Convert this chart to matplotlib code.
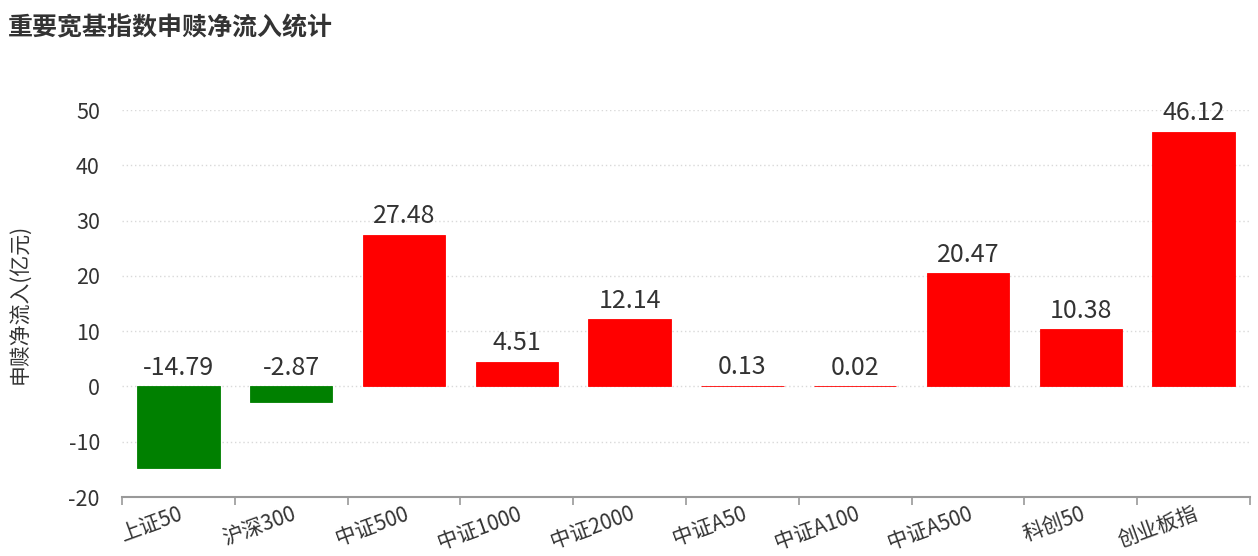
import matplotlib.pyplot as plt

plt.rcParams['font.family'] = ['Noto Sans CJK SC', 'DejaVu Sans']
plt.rcParams['axes.unicode_minus'] = False

categories = ['上证50', '沪深300', '中证500', '中证1000', '中证2000',
              '中证A50', '中证A100', '中证A500', '科创50', '创业板指']
values = [-14.79, -2.87, 27.48, 4.51, 12.14, 0.13, 0.02, 20.47, 10.38, 46.12]

fig = plt.figure(figsize=(12.58, 5.56), dpi=100)
ax = fig.add_axes([0.097, 0.106, 0.8966, 0.696])

x = list(range(len(categories)))
colors = ['#ff0000' if v >= 0 else '#008000' for v in values]
ax.bar(x, values, width=0.73, color=colors, edgecolor=colors, linewidth=0.6, zorder=3)

for xi, v in zip(x, values):
    ax.annotate(f'{v:.2f}', (xi, max(v, 0)), xytext=(0, 4), textcoords='offset points',
                ha='center', va='bottom', fontsize=18, color='#333333', zorder=4)

ax.set_xlim(-0.5, len(categories) - 0.5)
ax.set_ylim(-20, 50)
ax.set_yticks(range(-20, 51, 10))
ax.yaxis.grid(True, linestyle=(0, (1, 2)), color='#d9d9d9', linewidth=1, zorder=0)
ax.tick_params(axis='y', length=0, labelsize=15.5, labelcolor='#333333', pad=16)

# ticks on category boundaries, labels at centres
ax.set_xticks([i - 0.5 for i in range(len(categories) + 1)])
ax.set_xticklabels([])
ax.set_xticks(x, minor=True)
ax.set_xticklabels(categories, minor=True, rotation=20, ha='right',
                   rotation_mode='anchor', fontsize=15, color='#333333')
ax.tick_params(axis='x', which='major', length=6, color='#999999', width=1.2)
ax.tick_params(axis='x', which='minor', length=0, pad=4)

for side in ['top', 'right', 'left']:
    ax.spines[side].set_visible(False)
ax.spines['bottom'].set_color('#999999')
ax.spines['bottom'].set_linewidth(1.5)

ax.set_ylabel('申赎净流入(亿元)', fontsize=15, color='#333333')
ax.yaxis.set_label_coords(-0.08, 0.5)

fig.text(0.006, 0.95, '重要宽基指数申赎净流入统计', fontsize=18, fontweight='bold',
         color='#333333', ha='left', va='center')

fig.savefig('out.png', dpi=100)
